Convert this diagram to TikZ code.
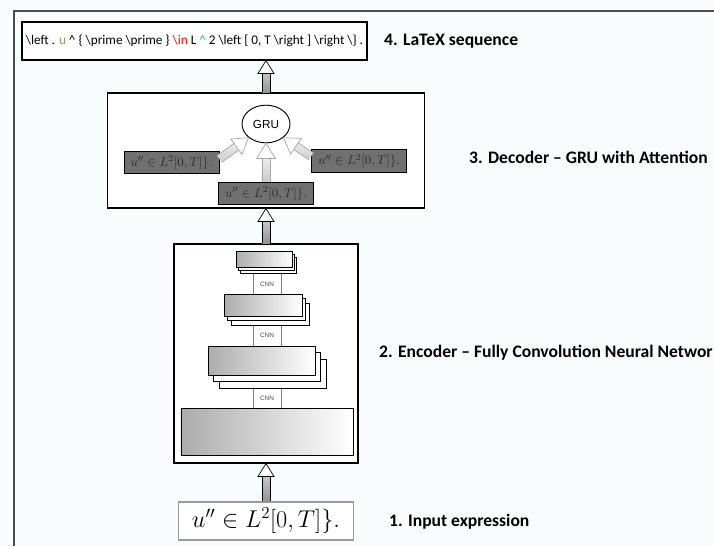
\documentclass[tikz,border=0pt]{standalone}
\usepackage{amsmath,amssymb}
\usepackage[no-math]{fontspec}
\setmainfont{Carlito}
\newfontfamily\arialfont{Liberation Sans}
\usepackage{tikz}
\usetikzlibrary{calc,shapes.geometric}

\definecolor{bgcol}{RGB}{248,252,253}
\definecolor{seqgreen}{RGB}{112,173,71}
\definecolor{seqcyan}{RGB}{0,176,240}
\definecolor{boxgray}{RGB}{112,112,112}
\definecolor{txtgray}{RGB}{45,45,45}

\tikzset{
  stage/.style={draw, line width=0.9pt, fill=white, inner sep=0pt},
  layer/.style={draw, line width=0.6pt, fill=white, inner sep=0pt},
  shadedlayer/.style={left color=gray!65, right color=white},
  cnnbox/.style={draw=gray, line width=0.5pt, fill=white, inner sep=0pt,
    minimum width=0.84cm, font=\arialfont\fontsize{5.5}{6}\selectfont, text=black!70},
  attbox/.style={draw, line width=0.7pt, fill=boxgray, text=txtgray, inner sep=0pt,
    minimum width=2.85cm, minimum height=0.67cm, font=\fontsize{11}{13}\selectfont},
  steplabel/.style={anchor=west, inner sep=0pt, font=\bfseries\fontsize{15}{18}\selectfont},
  main shaft/.style={top color=gray!45, bottom color=gray!85},
  main line/.style={draw=black, line width=0.6pt},
  att shaft/.style={top color=gray!15, bottom color=gray!40},
  att line/.style={draw=gray!70, line width=0.6pt},
}

\begin{document}
\begin{tikzpicture}[x=0.03cm, y=-0.03cm]
% hollow arrow from #2 to #3: shaft half width #4, head half width #5, head length #6
\newcommand{\hollowarr}[6][main]{%
  \path let \p1=(#2), \p2=(#3) in
    \pgfextra{\pgfmathsetmacro{\tmpa}{atan2(\y2-\y1,\x2-\x1)}%
      \pgfmathsetmacro{\tmpb}{veclen(\x2-\x1,\y2-\y1)}%
      \global\let\arrang\tmpa\global\let\arrlen\tmpb};
  \begin{scope}[shift={(#2)}, rotate=\arrang]
    \shade[#1 shaft] (0,-#4pt) rectangle ({\arrlen pt-#6pt},#4pt);
    \draw[#1 line] (0,-#4pt) -- ({\arrlen pt-#6pt},-#4pt) (0,#4pt) -- ({\arrlen pt-#6pt},#4pt);
    \draw[#1 line, fill=white] ({\arrlen pt-#6pt},-#5pt) -- ({\arrlen pt},0) -- ({\arrlen pt-#6pt},#5pt) -- cycle;
  \end{scope}}
% front layer #1 at (#2,#3), size #4 x #5 px, two copies behind shifted by (#6,#7)
\newcommand{\layerstack}[7]{%
  \foreach \k in {2,1}
    \draw[layer] ({#2-#4/2+\k*#6},{#3-#5/2+\k*#7}) rectangle ++(#4,#5);
  \node[layer, shadedlayer, minimum width=#4*0.03cm, minimum height=#5*0.03cm] (#1) at (#2,#3) {};}

\useasboundingbox (0,0) rectangle (714,546);
\fill[bgcol] (0,0) rectangle (714,546);

% outer frame (cut by the page)
\draw[line width=1.5pt, draw=black!70] (14,546) -- (14,11) -- (714,11);

% 4. output sequence
\node[stage, minimum width=10.35cm, minimum height=1.14cm, font=\fontsize{11.3}{14}\selectfont] (seq) at (194.5,41)
  {\textbackslash left . {\color{seqgreen}u} \textasciicircum{} \{ \textbackslash prime \textbackslash prime \} {\color{red}\textbackslash in} L {\color{seqcyan}\textasciicircum} 2 \textbackslash left [ 0, T \textbackslash right ] \textbackslash right \textbackslash\} .};
\node[steplabel] (lab4) at (384,41) {4. LaTeX sequence};

% 3. decoder
\node[stage, minimum width=9.51cm, minimum height=3.45cm] (dec) at (266,150.5) {};
\node[draw, ellipse, line width=0.8pt, fill=white, inner sep=0pt, minimum width=1.44cm, minimum height=1.13cm,
  font=\arialfont\fontsize{10}{12}\selectfont] (gru) at (266,124) {GRU};
\node[attbox] (sl) at (171.5,162.5) {$u'' \in L^2[0,T]\}.$};
\node[attbox] (sr) at (359,161) {$u'' \in L^2[0,T]\}.$};
\node[attbox] (sb) at (266,193.5) {$u'' \in L^2[0,T]\}.$};
\hollowarr[att]{sb.north}{gru.south}{3.5}{8}{13}
\hollowarr[att]{$(sl.east)!0.3!(sl.north east)$}{gru.south west}{3.5}{8}{13}
\hollowarr[att]{$(sr.west)!0.4!(sr.north west)$}{gru.south east}{3.5}{8}{13}
\node[steplabel] (lab3) at (469,157) {3. Decoder -- GRU with Attention};

% 2. encoder
\node[stage, minimum width=5.52cm, minimum height=6.57cm] (enc) at (266,353.5) {};
\node[cnnbox, minimum height=0.78cm] (cnn1) at (267,284) {CNN};
\node[cnnbox, minimum height=0.75cm] (cnn2) at (267,335.5) {CNN};
\node[cnnbox, minimum height=0.72cm] (cnn3) at (267,398) {CNN};
\layerstack{lay1}{264}{259}{56}{16}{2}{3}
\layerstack{lay2}{263}{305}{78}{22}{3.5}{4.5}
\layerstack{lay3}{261.5}{360.5}{107}{29}{5.5}{6.5}
\node[layer, shadedlayer, minimum width=5.16cm, minimum height=1.41cm] (lay4) at (267,431.5) {};
\node[steplabel] (lab2) at (379,353) {2. Encoder -- Fully Convolution Neural Networ};

% 1. input
\node[draw=gray!80, line width=1.6pt, fill=white, inner sep=0pt, minimum width=5.25cm, minimum height=1.14cm,
  font=\fontsize{22.3}{26}\selectfont] (inp) at (266,521) {$u'' \in L^2[0,T]\}.$};
\node[steplabel] (lab1) at (389,522) {1. Input expression};

% main arrows
\hollowarr{inp.north}{enc.south}{3.4}{6.8}{11}
\hollowarr{enc.north}{dec.south}{3.4}{6.8}{11}
\hollowarr{dec.north}{seq.south -| dec.north}{3.4}{6.8}{11}
\end{tikzpicture}
\end{document}
